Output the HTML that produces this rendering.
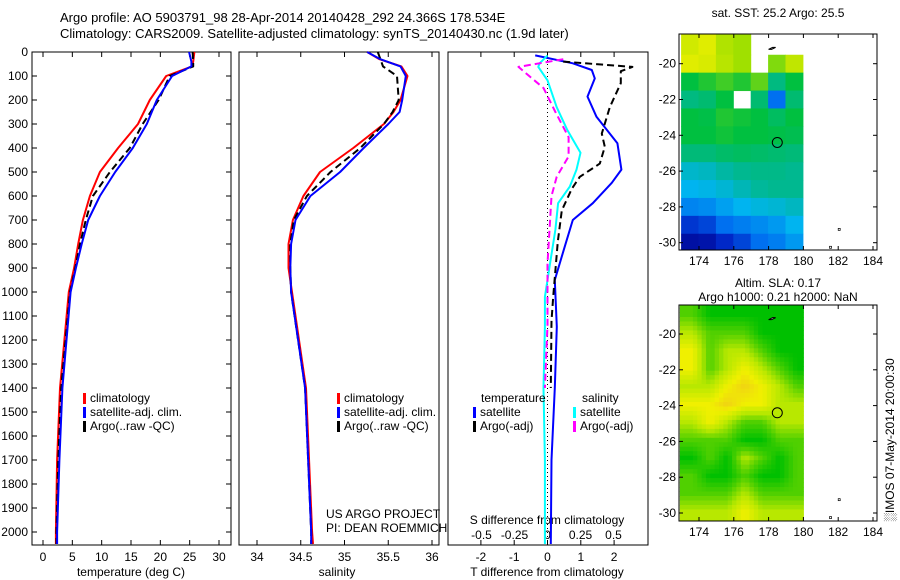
<!DOCTYPE html>
<html><head><meta charset="utf-8"><style>
html,body{margin:0;padding:0;background:#fff;}
svg{display:block;font-family:"Liberation Sans",sans-serif;}
</style></head><body>
<svg id="c" width="900" height="580" viewBox="0 0 900 580"></svg>
<script>
// ---- data ----
const depthT = [0,40,60,100,200,300,400,500,600,700,800,900,1000,1400,1700,2000,2050];
const tempClim = [25.8,25.6,25.4,21.0,18.2,16.2,12.8,9.7,8.0,6.8,6.0,5.3,4.4,2.9,2.4,2.2,2.2];
const tempSat = [24.9,25.3,25.3,22.0,19.4,17.7,15.3,12.3,9.7,7.7,6.6,5.6,4.7,3.3,2.8,2.4,2.4];
const tempArgo = [25.5,25.6,25.6,21.6,19.7,17.0,14.8,11.4,8.5,7.3,6.3,5.5,4.6,3.1,2.6,2.3,2.3];
const depthS = [0,30,60,100,200,250,300,400,500,600,700,800,900,1000,1400,2000,2050];
const salClim = [35.26,35.40,35.65,35.72,35.64,35.56,35.45,35.10,34.72,34.53,34.41,34.36,34.36,34.40,34.56,34.63,34.64];
const salSat = [35.26,35.41,35.64,35.70,35.66,35.63,35.50,35.22,34.95,34.61,34.44,34.39,34.38,34.39,34.55,34.62,34.62];
const salArgo = [35.38,35.41,35.44,35.60,35.62,35.55,35.45,35.18,34.84,34.57,34.42,34.38,34.38,34.39,34.55,34.62,34.62];
const diffDepthTS = [14,47,75,110,186,270,380,490,545,630,700,810,950,1145,1400,1700,2050];
const dTsat = [-0.37,0.76,1.33,1.42,1.2,1.47,2.1,2.22,1.93,1.36,0.76,0.52,0.22,0.28,0.22,0.12,0.1];
const diffDepthTA = [40,62,80,130,230,340,395,465,520,570,660,790,1020,1120,1400];
const dTargo = [0.47,2.55,2.2,2.2,1.87,1.63,1.72,1.57,0.97,0.73,0.43,0.31,0.17,0.12,0.1];
const diffDepthS = [14,47,62,118,230,325,420,490,560,630,740,880,1020,1145,1400,1700,2050];
const dSsat = [0,-0.06,-0.07,0,0.07,0.15,0.25,0.22,0.17,0.08,0.06,0.02,-0.02,-0.02,-0.03,-0.02,-0.02];
const diffDepthSA = [30,62,95,150,250,355,435,520,600,700,880,1140,1400];
const dSargo = [0.12,-0.22,-0.15,-0.03,0.06,0.16,0.16,0.07,0.03,0.02,0.0,0.0,-0.02];
const depthTicks = [0,100,200,300,400,500,600,700,800,900,1000,1100,1200,1300,1400,1500,1600,1700,1800,1900,2000];
const tempTicks = [0,5,10,15,20,25,30];
const salTicks = [34,34.5,35,35.5,36];
const tdiffTicks = [-2,-1,0,1,2];
const sdiffTicks = [-0.5,-0.25,0,0.25,0.5];
const sdiffLabels = ['-0.5','-0.25','0','0.25','0.5'];
const lonTicks = [174,176,178,180,182,184];
const latTicks = [-20,-22,-24,-26,-28,-30];
// SST grid 1deg: rows lat -18.3 -> -30.4, cols lon 173..180 ; -1 = no data
const sstRows = [
[6.6,6.8,6.2,6,-1,-1,-1],
[6.8,6.7,6.3,6,-1,5.8,6.4],
[5,5.2,5.4,5.2,5.6,4.2,5],
[4.2,4.4,5,-1,4.4,2,4.4],
[5,4.9,5.2,5.1,5,4.6,5],
[5,5,5.1,5,5,4.9,4.8],
[4.3,4.3,4.5,4.6,4.5,4.4,4.3],
[3.4,3.5,3.8,4,4.1,4.1,4],
[3,3.1,3.3,3.6,3.9,4,4],
[2.3,2.4,2.7,3,3.2,3.3,3.5],
[1.2,1.4,2,2.2,2.4,2.6,3],
[0.4,0.5,1,1.4,2,2.2,2.6]];
const slaRows = [
[1,0,0,0,0,0,0],
[2,1,1,1,0,0,0],
[3,1,2,2,1,0,0],
[3,1,2,3,2,1,0],
[2,2,3,3.6,3,2,1],
[3,3,3.6,3,3,2,2],
[2,3,2,1,1,2,2],
[1,1,1,0,0,1,1],
[0,1,0,2,1,0,1],
[1,0,0,1,0,0,1],
[1,1,1,2,1,1,1],
[2,2,2,3,2,2,2]];
const argoLon = 178.5, argoLat = -24.4;

// ---- helpers ----
const NS='http://www.w3.org/2000/svg';
const svg=document.getElementById('c');
function mk(tag,attrs,parent){const e=document.createElementNS(NS,tag);for(const k in attrs)e.setAttribute(k,attrs[k]);(parent||svg).appendChild(e);return e;}
function txt(x,y,s,size,anchor,parent){const t=mk('text',{x:x,y:y,'font-size':size||12,'text-anchor':anchor||'start',fill:'#000'},parent);t.textContent=s;return t;}
const yD=d=>52+d*0.24;
const xT=v=>43+v*5.867;
const xS=v=>257+(v-34)*87.5;
const xTD=v=>547.5+v*33.3;
const xSD=v=>547.5+v*132;

function line(xs,ys,fx,color,dash,name,w){
  let p='';for(let i=0;i<xs.length;i++){p+=(i?'L':'M')+fx(xs[i]).toFixed(1)+','+yD(ys[i]).toFixed(1);}
  const e=mk('path',{d:p,fill:'none',stroke:color,'stroke-width':w||2,'stroke-dasharray':dash||'none','stroke-linejoin':'round'});
  
  
  return e;
}

// titles
const t1=txt(60,22,'Argo profile: AO 5903791_98 28-Apr-2014 20140428_292 24.366S 178.534E',13);

const t2=txt(60,38,'Climatology: CARS2009. Satellite-adjusted climatology: synTS_20140430.nc (1.9d later)',13);


// panel frames
const panels=[[32,231],[239,439],[448,648]];
panels.forEach((p,i)=>{const r=mk('rect',{x:p[0],y:52,width:p[1]-p[0],height:493,fill:'none',stroke:'#000','stroke-width':1});
 });

// depth ticks
depthTicks.forEach(d=>{const y=yD(d);
 mk('line',{x1:32,y1:y,x2:37,y2:y,stroke:'#000'});mk('line',{x1:226,y1:y,x2:231,y2:y,stroke:'#000'});
 const t=txt(28,y+4,String(d),12,'end');});
tempTicks.forEach(v=>{const x=xT(v);mk('line',{x1:x,y1:52,x2:x,y2:57,stroke:'#000'});mk('line',{x1:x,y1:540,x2:x,y2:545,stroke:'#000'});
 const t=txt(x,561,String(v),12,'middle');});
const xl1=txt(131,576,'temperature (deg C)',12,'middle');
salTicks.forEach(v=>{const x=xS(v);mk('line',{x1:x,y1:52,x2:x,y2:57,stroke:'#000'});mk('line',{x1:x,y1:540,x2:x,y2:545,stroke:'#000'});
 const t=txt(x,561,String(v),12,'middle');});
const xl2=txt(337,576,'salinity',12,'middle');
tdiffTicks.forEach(v=>{const x=xTD(v);mk('line',{x1:x,y1:52,x2:x,y2:57,stroke:'#000'});mk('line',{x1:x,y1:540,x2:x,y2:545,stroke:'#000'});
 const t=txt(x,561,String(v),12,'middle');});
sdiffTicks.forEach((v,i)=>{const t=txt(xSD(v),539,sdiffLabels[i],12,'middle');});
const xl3=txt(547,576,'T difference from climatology',12,'middle');
const xl4=txt(547,524,'S difference from climatology',12,'middle');

const z=mk('line',{x1:xTD(0),y1:52,x2:xTD(0),y2:545,stroke:'#000','stroke-dasharray':'1,3'});


// series
line(tempClim,depthT,xT,'#f00',null,'temp-climatology-line');
line(tempArgo,depthT,xT,'#000','7,4','temp-argo-line');
line(tempSat,depthT,xT,'#00f',null,'temp-satellite-line');
line(salClim,depthS,xS,'#f00',null,'sal-climatology-line');
line(salArgo,depthS,xS,'#000','7,4','sal-argo-line');
line(salSat,depthS,xS,'#00f',null,'sal-satellite-line');
line(dTsat,diffDepthTS,xTD,'#00f',null,'tdiff-satellite-line');
line(dTargo,diffDepthTA,xTD,'#000','7,4','tdiff-argo-line');
line(dSsat,diffDepthS,xSD,'#0ff',null,'sdiff-satellite-line');
line(dSargo,diffDepthSA,xSD,'#f0f','7,4','sdiff-argo-line');

// legends
function leg(x,y,color,label,name){const r=mk('rect',{x:x,y:y-9,width:3,height:11,fill:color});
 
 const t=txt(x+7,y,label,12);}
leg(83,402,'#f00','climatology','legend-entry-climatology');
leg(83,416,'#00f','satellite-adj. clim.','legend-entry-satellite');
leg(83,430,'#000','Argo(..raw -QC)','legend-entry-argo');
leg(337,402,'#f00','climatology','legend-entry-climatology-2');
leg(337,416,'#00f','satellite-adj. clim.','legend-entry-satellite-2');
leg(337,430,'#000','Argo(..raw -QC)','legend-entry-argo-2');
const lt=txt(481,402,'temperature',12);
const ls=txt(582,402,'salinity',12);
leg(473,416,'#00f','satellite','legend-entry-t-satellite');
leg(473,430,'#000','Argo(-adj)','legend-entry-t-argo');
leg(573,416,'#0ff','satellite','legend-entry-s-satellite');
leg(573,430,'#f0f','Argo(-adj)','legend-entry-s-argo');
const u1=txt(326,518,'US ARGO PROJECT',12);
const u2=txt(326,532,'PI: DEAN ROEMMICH',12);

// ---- maps ----
const sstCols=['#00008c','#0028c8','#0070f0','#00b4f0','#00b890','#00c040','#a0e000','#f0f000','#f0a800'];
function mix(a,b,t){const pa=[1,3,5].map(i=>parseInt(a.substr(i,2),16)),pb=[1,3,5].map(i=>parseInt(b.substr(i,2),16));
 return 'rgb('+pa.map((v,i)=>Math.round(v+(pb[i]-v)*t)).join(',')+')';}
function sstColor(v){v=Math.max(0,Math.min(8,v));const i=Math.min(7,Math.floor(v));return mix(sstCols[i],sstCols[i+1],v-i);}
const slaCols=['#00c000','#50d000','#b8e800','#f0f000','#f0c020'];
function slaColor(v){v=Math.max(0,Math.min(4,v));const i=Math.min(3,Math.floor(v));return mix(slaCols[i],slaCols[i+1],v-i);}

function map(top,bottom,lat20y,lat30y,kind,name){
  const L=679,R=877;
  const xL=lon=>699+(lon-174)*17.4;
  const yL=lat=>lat20y+(-20-lat)*(lat30y-lat20y)/10;
  const g=mk('g',{});
  const rows=kind==='sst'?sstRows:slaRows;
  const latTop=-18.3;
  if(kind==='sst'){
    rows.forEach((row,ri)=>row.forEach((v,ci)=>{ if(v<0)return;
      const la0=ri===0?latTop:-18.5-ri, la1=Math.max(-30.4,-18.5-ri-1);
      const y0=Math.max(top,yL(la0));
      const r=mk('rect',{x:Math.max(L,xL(173+ci)-0.5),y:y0,width:17.9,height:yL(la1)-y0+0.5,fill:sstColor(v)},g);
      }));
  } else {
    const step=0.25;
    for(let lat=latTop; lat>-30.4; lat-=step){
      for(let lon=172.9; lon<180; lon+=step){
        const fr=Math.max(0,Math.min(rows.length-1,(latTop-0.5-lat)));
        const fc=Math.max(0,Math.min(6,(lon-173.5)));
        const r0=Math.floor(fr),c0=Math.floor(fc),r1=Math.min(rows.length-1,r0+1),c1=Math.min(6,c0+1);
        const tr=fr-r0,tc=fc-c0;
        const v=(rows[r0][c0]*(1-tc)+rows[r0][c1]*tc)*(1-tr)+(rows[r1][c0]*(1-tc)+rows[r1][c1]*tc)*tr;
        const y0=Math.max(top,yL(lat)), y1=Math.min(bottom,yL(lat-step));
        const cell=mk('rect',{x:Math.max(L,xL(lon)),y:y0,width:xL(Math.min(180,lon+step))-Math.max(L,xL(lon))+0.5,height:y1-y0+0.5,fill:slaColor(v)},g);
        
      }
    }
  }
  mk('path',{d:`M${xL(178)} ${yL(-19.2)} l4 -2 l3 0 l-4 2 z`,fill:'#fff',stroke:'#000','stroke-width':1},g);
  mk('rect',{x:xL(181.5),y:yL(-30.2),width:2,height:2,fill:'none',stroke:'#000','stroke-width':0.7},g);
  mk('rect',{x:xL(182),y:yL(-29.2),width:2,height:2,fill:'none',stroke:'#000','stroke-width':0.7},g);
  const fr=mk('rect',{x:L,y:top,width:R-L,height:bottom-top,fill:'none',stroke:'#000'});
  
  lonTicks.forEach(lo=>{const x=xL(lo);mk('line',{x1:x,y1:top,x2:x,y2:top+4,stroke:'#000'});mk('line',{x1:x,y1:bottom-4,x2:x,y2:bottom,stroke:'#000'});
    const t=txt(x,bottom+15,String(lo),12,'middle');});
  latTicks.forEach(la=>{const y=yL(la);mk('line',{x1:L,y1:y,x2:L+4,y2:y,stroke:'#000'});mk('line',{x1:R-4,y1:y,x2:R,y2:y,stroke:'#000'});
    const t=txt(676,y+4,String(la),12,'end');});
  const c=mk('circle',{cx:xL(argoLon),cy:yL(argoLat),r:5,fill:'none',stroke:'#000','stroke-width':1});
  
}
map(34,250,63.7,242.7,'sst','sst-map');
map(305,521,334,513,'sla','sla-map');
const m1=txt(778,17,'sat. SST: 25.2 Argo: 25.5',12,'middle');
const m2=txt(778,287,'Altim. SLA: 0.17',12,'middle');
const m3=txt(778,301,'Argo h1000: 0.21 h2000: NaN',12,'middle');
const v=txt(0,0,'\u2591IMOS 07-May-2014 20:00:30',12,'middle');
v.setAttribute('transform','translate(894,440) rotate(-90)');

</script>
</body></html>
